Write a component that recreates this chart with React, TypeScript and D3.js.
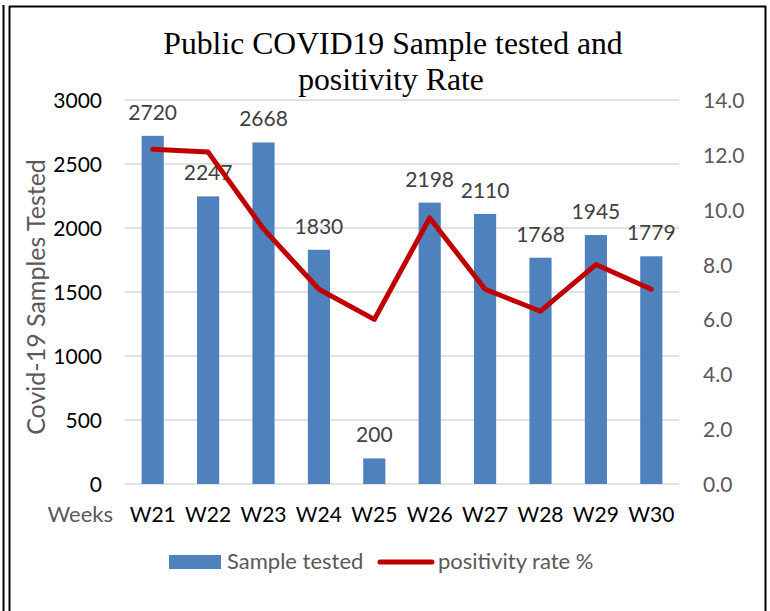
import React from "react";
import * as d3 from "d3";

const weeks = ["W21", "W22", "W23", "W24", "W25", "W26", "W27", "W28", "W29", "W30"];
const samplesTested = [2720, 2247, 2668, 1830, 200, 2198, 2110, 1768, 1945, 1779];
const positivityRate = [12.2, 12.1, 9.3, 7.1, 6.0, 9.7, 7.1, 6.3, 8.0, 7.1];
const leftTicks = [0, 500, 1000, 1500, 2000, 2500, 3000];
const rightTicks = [0, 2, 4, 6, 8, 10, 12, 14];

const W = 770;
const H = 611;
const plot = { left: 125, right: 679, top: 100, bottom: 484 };
const sans = "Lato, 'Open Sans', sans-serif";
const serif = "'Liberation Serif', 'Times New Roman', serif";

const App = () => {
  const x = d3.scaleBand<string>().domain(weeks).range([plot.left, plot.right]).paddingInner(0.6).paddingOuter(0.3);
  const y = d3.scaleLinear().domain([0, 3000]).range([plot.bottom, plot.top]);
  const y2 = d3.scaleLinear().domain([0, 14]).range([plot.bottom, plot.top]);
  const center = (w: string) => (x(w) ?? 0) + x.bandwidth() / 2;

  const line = d3
    .line<number>()
    .x((_, i) => center(weeks[i]))
    .y((d) => y2(d));

  return (
    <div style={{ position: "absolute", top: 0, left: 0 }}>
      <svg width={W} height={H} style={{ display: "block", background: "#fff" }}>
        {/* frame */}
        <g stroke="#000" strokeWidth={2} fill="none">
          <line x1={3.5} y1={5} x2={3.5} y2={H} />
          <line x1={9.5} y1={6} x2={9.5} y2={H} />
          <line x1={9} y1={6.5} x2={766} y2={6.5} />
          <line x1={765.5} y1={6} x2={765.5} y2={H} />
        </g>

        {/* title */}
        <text x={393} y={54} textAnchor="middle" fontFamily={serif} fontSize={31.7} fill="#000">
          Public COVID19 Sample tested and
        </text>
        <text x={391} y={90} textAnchor="middle" fontFamily={serif} fontSize={31.7} fill="#000">
          positivity Rate
        </text>

        {/* gridlines */}
        {leftTicks.map((t) => (
          <line key={t} x1={plot.left} x2={plot.right} y1={y(t)} y2={y(t)} stroke="#d9d9d9" strokeWidth={1.5} />
        ))}

        {/* left axis labels */}
        {leftTicks.map((t) => (
          <text key={t} x={102} y={y(t) + 8} textAnchor="end" fontFamily={sans} fontSize={21} fill="#000">
            {t}
          </text>
        ))}

        {/* right axis labels */}
        {rightTicks.map((t) => (
          <text key={t} x={703} y={y2(t) + 8} textAnchor="start" fontFamily={sans} fontSize={21} fill="#595959">
            {t.toFixed(1)}
          </text>
        ))}

        {/* y axis title */}
        <text
          transform={`translate(45,${297}) rotate(-90)`}
          textAnchor="middle"
          fontFamily={sans}
          fontSize={25}
          fill="#595959"
        >
          Covid-19 Samples Tested
        </text>

        {/* bars */}
        {samplesTested.map((v, i) => (
          <rect
            key={weeks[i]}
            x={x(weeks[i])}
            y={y(v)}
            width={x.bandwidth()}
            height={plot.bottom - y(v)}
            fill="#4f81bd"
          />
        ))}

        {/* bar labels */}
        {samplesTested.map((v, i) => (
          <text
            key={weeks[i]}
            x={center(weeks[i])}
            y={y(v) - 16}
            textAnchor="middle"
            fontFamily={sans}
            fontSize={21}
            fill="#404040"
          >
            {v}
          </text>
        ))}

        {/* positivity line */}
        <path
          d={line(positivityRate) ?? ""}
          fill="none"
          stroke="#c00000"
          strokeWidth={5}
          strokeLinejoin="round"
          strokeLinecap="round"
        />

        {/* x labels */}
        <text x={113} y={522} textAnchor="end" fontFamily={sans} fontSize={22} fill="#595959">
          Weeks
        </text>
        {weeks.map((w) => (
          <text key={w} x={center(w)} y={522} textAnchor="middle" fontFamily={sans} fontSize={21} fill="#000">
            {w}
          </text>
        ))}

        {/* legend */}
        <rect x={169} y={555} width={52} height={14} fill="#4f81bd" />
        <text x={227} y={569} fontFamily={sans} fontSize={22} fill="#595959">
          Sample tested
        </text>
        <line x1={380} x2={432} y1={562} y2={562} stroke="#c00000" strokeWidth={5} strokeLinecap="round" />
        <text x={438} y={569} fontFamily={sans} fontSize={22} fill="#595959">
          positivity rate %
        </text>
      </svg>
    </div>
  );
};

export default App;
